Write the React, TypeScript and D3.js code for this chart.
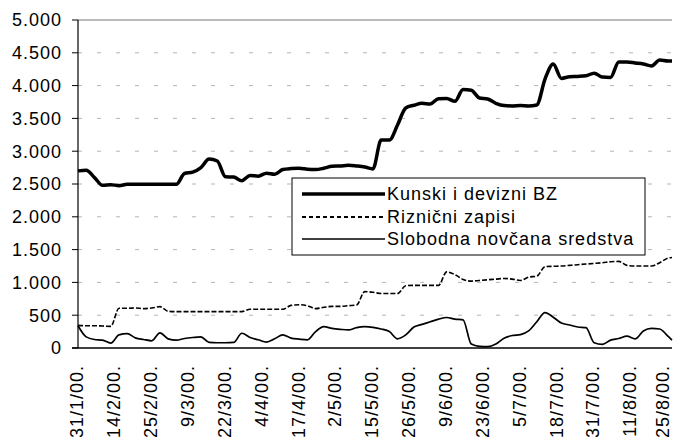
import React from "react";
import * as d3 from "d3";

const xLabels = ["31/1/00.","14/2/00.","25/2/00.","9/3/00.","22/3/00.","4/4/00.","17/4/00.","2/5/00.","15/5/00.","26/5/00.","9/6/00.","23/6/00.","5/7/00.","18/7/00.","31/7/00.","11/8/00.","25/8/00."];
const yTicks = [0,500,1000,1500,2000,2500,3000,3500,4000,4500,5000];

const kunski = [2700,2710,2600,2480,2490,2475,2495,2495,2495,2495,2495,2495,2495,2660,2680,2750,2880,2850,2610,2605,2550,2630,2620,2665,2650,2720,2735,2740,2725,2720,2740,2770,2775,2785,2775,2760,2730,3170,3170,3400,3660,3700,3730,3720,3800,3805,3760,3940,3930,3810,3795,3730,3695,3690,3695,3690,3705,4100,4330,4110,4135,4140,4150,4190,4130,4125,4360,4360,4345,4330,4300,4390,4375,4375];
const riznicni = [345,340,340,335,330,605,605,610,600,610,630,560,555,555,555,555,555,555,555,555,555,590,590,590,590,590,650,660,645,600,620,635,635,645,655,860,850,830,830,830,950,955,955,955,955,1160,1120,1045,1020,1030,1040,1050,1060,1050,1030,1080,1095,1240,1245,1250,1260,1270,1280,1290,1300,1315,1320,1260,1250,1250,1250,1300,1370,1380];
const slobodna = [340,170,130,120,75,200,220,155,130,110,230,140,120,145,160,170,85,80,80,85,225,160,125,90,140,200,150,135,125,250,325,300,285,275,310,325,315,290,250,140,200,320,360,400,440,465,440,430,60,25,20,60,150,190,205,260,400,540,470,380,350,320,310,80,55,120,145,180,140,260,300,290,180,120];

const seriesNames = ["Kunski i devizni BZ", "Rizni\u010dni zapisi", "Slobodna nov\u010dana sredstva"];

const W = 673, H = 437;
const left = 78, right = 672, top = 20, bottom = 348;
const lastIndex = 145;
const FONT = "'Liberation Sans', Arial, sans-serif";

export default function App() {
  const x = d3.scaleLinear().domain([0, lastIndex]).range([left, right]);
  const y = d3.scaleLinear().domain([0, 5000]).range([bottom, top]);
  const idx = (k: number, n: number) => (k === n - 1 ? lastIndex : 2 * k);
  const line = (vals: number[]) =>
    d3.line<number>()
      .x((_, k) => x(idx(k, vals.length)))
      .y((v) => y(v))
      .curve(d3.curveMonotoneX)(vals) || "";
  const fmt = (v: number) => (v >= 1000 ? `${Math.floor(v / 1000)}.${String(v % 1000).padStart(3, "0")}` : String(v));

  const legendX = 292, legendY = 178, legendW = 353, legendH = 77;
  const rowY = [194, 217, 239];
  const styles = [
    { w: 3.5, dash: "" },
    { w: 1.8, dash: "4,3" },
    { w: 1.6, dash: "" },
  ];

  return (
    <div style={{ position: "absolute", left: 0, top: 0 }}>
      <svg width={W} height={H} style={{ display: "block", background: "#fff" }} fontFamily={FONT}>
        {yTicks.map((t) => (
          <g key={t}>
            {t > 0 && (
              <line x1={left} x2={right} y1={y(t)} y2={y(t)} stroke={t === 5000 ? "#777" : "#b4b4b4"} strokeWidth={1}
                strokeDasharray={t === 5000 ? "" : "4,15"} />
            )}
            <line x1={left - 6} x2={left} y1={y(t)} y2={y(t)} stroke="#000" />
            <text x={62} y={y(t)} dy="0.35em" textAnchor="end" fontSize={18} letterSpacing={1} fill="#000">{fmt(t)}</text>
          </g>
        ))}
        <line x1={left} x2={left} y1={top} y2={bottom} stroke="#000" strokeWidth={1.2} />
        <line x1={left - 6} x2={right} y1={bottom} y2={bottom} stroke="#000" strokeWidth={1.5} />
        {xLabels.map((lab, i) => {
          const xx = Math.min(x(i * 9) - 1, 663);
          return (
            <text key={lab} transform={`translate(${xx},365) rotate(-90)`} dy="0.35em" textAnchor="end" fontSize={18} letterSpacing={1} fill="#000">{lab}</text>
          );
        })}
        <path d={line(riznicni)} fill="none" stroke="#000" strokeWidth={1.6} strokeDasharray="5,2" />
        <path d={line(slobodna)} fill="none" stroke="#000" strokeWidth={1.7} />
        <path d={line(kunski)} fill="none" stroke="#000" strokeWidth={3.5} strokeLinejoin="round" />
        <rect x={legendX} y={legendY} width={legendW} height={legendH} fill="#fff" stroke="#000" strokeWidth={1} />
        {seriesNames.map((nm, i) => (
          <g key={nm}>
            <line x1={302} x2={385} y1={rowY[i]} y2={rowY[i]} stroke="#000" strokeWidth={styles[i].w} strokeDasharray={styles[i].dash} />
            <text x={387} y={rowY[i]} dy="0.35em" fontSize={18} letterSpacing={1} fill="#000">{nm}</text>
          </g>
        ))}
      </svg>
    </div>
  );
}
